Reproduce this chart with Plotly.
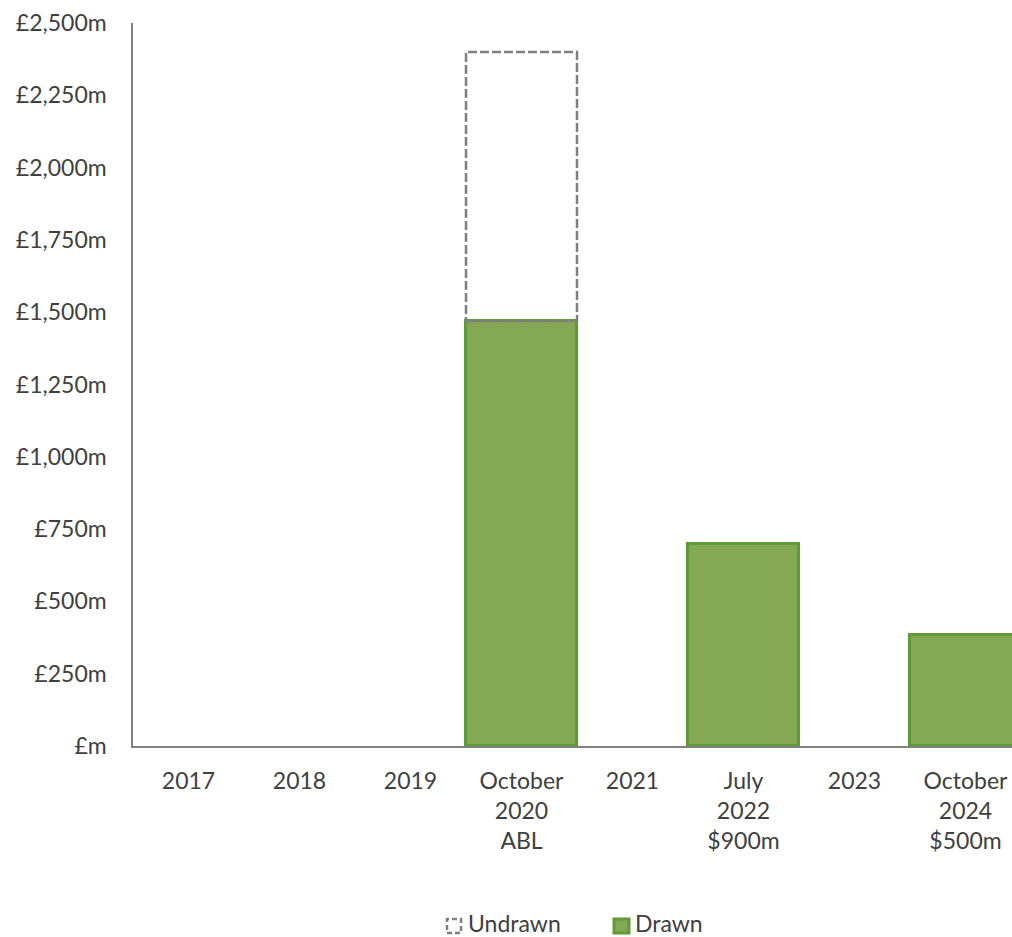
import plotly.graph_objects as go

# Facility maturities (£m)
categories = ["2017", "2018", "2019", "October<br>2020<br>ABL", "2021",
              "July<br>2022<br>$900m", "2023", "October<br>2024<br>$500m"]
drawn = [0, 0, 0, 1470, 0, 700, 0, 384]
undrawn = [0, 0, 0, 930, 0, 0, 0, 0]

y_ticks = [0, 250, 500, 750, 1000, 1250, 1500, 1750, 2000, 2250, 2500]
y_tick_text = ["£m", "£250m", "£500m", "£750m", "£1,000m", "£1,250m",
               "£1,500m", "£1,750m", "£2,000m", "£2,250m", "£2,500m"]

GREEN_FILL = "#85A857"
GREEN_LINE = "#5F9B34"
GREY = "#808080"
TEXT = "#404040"
FONT = "Lato"
FSIZE = 23

W, H = 1012, 937
L, T, B, R = 133, 23, 191, 0
plot_w = W - L - R
plot_h = H - T - B

fig = go.Figure()

# outline only on bars that actually have a value
fig.add_trace(go.Bar(
    x=list(range(len(categories))), y=drawn, name="Drawn",
    marker=dict(color=GREEN_FILL,
                line=dict(color=GREEN_LINE, width=[3 if v > 0 else 0 for v in drawn])),
    showlegend=False,
))
fig.add_trace(go.Bar(
    x=list(range(len(categories))), y=undrawn, name="Undrawn",
    marker=dict(color="rgba(255,255,255,0)", line=dict(width=0)),
    showlegend=False,
))

# dashed outline for the undrawn part of each facility
for i, (d, u) in enumerate(zip(drawn, undrawn)):
    if u > 0:
        fig.add_shape(type="rect", xref="x", yref="y",
                      x0=i - 0.5, x1=i + 0.5, y0=d, y1=d + u,
                      line=dict(color=GREY, width=2.5, dash="9px,3px"),
                      fillcolor="rgba(0,0,0,0)", layer="above")

# legend drawn by hand so the undrawn key can carry a dashed border
def px_x(px):
    return (px - L) / plot_w

def px_y(py):
    return (H - B - py) / plot_h

fig.add_shape(type="rect", xref="paper", yref="paper",
              x0=px_x(447), x1=px_x(461), y0=px_y(933), y1=px_y(919),
              line=dict(color=GREY, width=2.5, dash="5px,3px"),
              fillcolor="white")
fig.add_shape(type="rect", xref="paper", yref="paper",
              x0=px_x(614), x1=px_x(629), y0=px_y(933), y1=px_y(919),
              line=dict(color=GREEN_LINE, width=3),
              fillcolor=GREEN_FILL)
fig.add_annotation(xref="paper", yref="paper", x=px_x(466), y=px_y(923),
                   text="Undrawn", showarrow=False, xanchor="left",
                   yanchor="middle", font=dict(family=FONT, size=FSIZE, color=TEXT))
fig.add_annotation(xref="paper", yref="paper", x=px_x(633), y=px_y(923),
                   text="Drawn", showarrow=False, xanchor="left",
                   yanchor="middle", font=dict(family=FONT, size=FSIZE, color=TEXT))

fig.update_layout(
    width=W, height=H,
    margin=dict(l=L, r=R, t=T, b=B, pad=0),
    barmode="stack", bargap=0,
    plot_bgcolor="white", paper_bgcolor="white",
    font=dict(family=FONT, size=FSIZE, color=TEXT),
)
fig.update_xaxes(
    tickmode="array", tickvals=list(range(len(categories))), ticktext=categories,
    range=[-0.5, -0.5 + plot_w / 111.0],
    showline=True, linecolor=GREY, linewidth=1.5,
    showgrid=False, zeroline=False, ticks="", ticklabelstandoff=14,
)
fig.update_yaxes(
    range=[0, 2500], tickmode="array", tickvals=y_ticks, ticktext=y_tick_text,
    showline=True, linecolor=GREY, linewidth=1.5,
    showgrid=False, zeroline=False, ticks="", ticklabelstandoff=20,
)

fig.write_html("out.html")
